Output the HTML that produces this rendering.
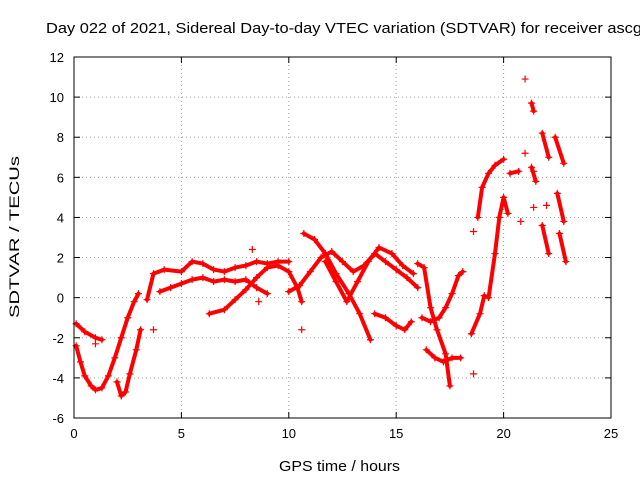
<!DOCTYPE html>
<html><head><meta charset="utf-8"><style>
body{margin:0;background:#fff;}
svg{display:block;font-family:"Liberation Sans",sans-serif;}
</style></head><body>
<svg id="chart" width="640" height="480">
<text x="46" y="33" font-size="15" textLength="596" lengthAdjust="spacingAndGlyphs" fill="#000">Day 022 of 2021, Sidereal Day-to-day VTEC variation (SDTVAR) for receiver ascg</text>
<text x="279" y="471" font-size="15" textLength="121" lengthAdjust="spacingAndGlyphs">GPS time / hours</text>
<text transform="translate(19,318) rotate(-90)" font-size="14" textLength="162" lengthAdjust="spacingAndGlyphs">SDTVAR / TECUs</text>
<g id="grid"></g><g id="marks"></g><g id="axes"></g>
</svg>
<script>
const xTicks=[0,5,10,15,20,25];
const yTicks=[-6,-4,-2,0,2,4,6,8,10,12];
const tracks=[
[[0.1,-2.4],[0.3,-3.2],[0.5,-3.9],[0.8,-4.4],[1.0,-4.6],[1.3,-4.5],[1.6,-3.9],[1.9,-3.0],[2.2,-2.0],[2.5,-1.0],[2.8,-0.2],[3.0,0.2]],
[[0.1,-1.3],[0.5,-1.7],[1.0,-2.0],[1.3,-2.1]],
[[2.0,-4.2],[2.2,-4.9],[2.4,-4.7],[2.6,-3.8],[2.9,-2.6],[3.1,-1.6]],
[[3.4,-0.1],[3.7,1.2],[4.2,1.4],[5.0,1.3],[5.5,1.8],[6.0,1.7],[6.5,1.4],[7.0,1.3],[7.5,1.5],[8.0,1.6],[8.5,1.8],[9.0,1.7],[9.5,1.8],[10.0,1.8]],
[[4.0,0.3],[4.5,0.5],[5.0,0.7],[5.5,0.9],[6.0,1.0],[6.5,0.8],[7.0,0.9],[7.5,0.8],[8.0,0.9],[8.5,0.5],[9.0,0.2]],
[[6.3,-0.8],[7.0,-0.6],[7.5,-0.1],[8.0,0.4],[8.5,1.0],[9.0,1.5],[9.5,1.6],[10.0,1.3],[10.4,0.5],[10.6,-0.2]],
[[10.0,0.3],[10.5,0.6],[11.0,1.3],[11.5,2.0],[12.0,2.3],[12.5,1.8],[13.0,1.3],[13.5,1.6],[14.0,2.2],[14.5,1.8],[15.0,1.4],[15.5,1.0],[16.0,0.5]],
[[10.7,3.2],[11.2,2.9],[11.7,2.2],[12.2,1.2],[12.8,0.2],[13.3,-0.8],[13.8,-2.1]],
[[11.7,1.8],[12.2,0.8],[12.7,-0.2],[13.2,0.8],[13.7,1.8],[14.2,2.5],[14.8,2.2],[15.3,1.6],[15.8,1.2]],
[[14.0,-0.8],[14.5,-1.0],[15.0,-1.4],[15.4,-1.6],[15.7,-1.2]],
[[16.0,1.7],[16.3,1.5],[16.6,-0.5],[16.9,-1.6],[17.3,-2.8],[17.5,-4.4]],
[[16.2,-1.0],[16.6,-1.2],[17.0,-1.0],[17.3,-0.5],[17.6,0.2],[17.9,1.1],[18.1,1.3]],
[[16.4,-2.6],[16.8,-3.0],[17.2,-3.2],[17.6,-3.0],[18.0,-3.0]],
[[18.5,-1.8],[18.9,-0.8],[19.1,0.1],[19.3,0.0],[19.6,2.2],[19.8,4.0],[20.0,5.0],[20.2,4.2]],
[[18.8,4.0],[19.0,5.5],[19.3,6.2],[19.6,6.6],[20.0,6.9]],
[[20.3,6.2],[20.7,6.3]],
[[21.3,9.7],[21.4,9.3]],
[[21.8,8.2],[22.1,7.0]],
[[21.3,6.5],[21.5,5.8]],
[[22.4,8.0],[22.8,6.7]],
[[22.5,5.2],[22.8,3.8]],
[[21.8,3.6],[22.1,2.2]],
[[22.6,3.2],[22.9,1.8]]
];
const isolated=[[21.0,10.9],[21.0,7.2],[21.4,4.5],[20.8,3.8],[22.0,4.6],[18.6,-3.8],[18.6,3.3],[10.6,-1.6],[3.7,-1.6],[8.3,2.4],[8.6,-0.2],[1.0,-2.3],[21.4,6.3]];
const L=74,R=611,T=57,B=418;
const xs=v=>L+(v-0)/25*(R-L);
const ys=v=>B-(v+6)/18*(B-T);
const NS="http://www.w3.org/2000/svg";
function mk(tag,attrs,parent){const e=document.createElementNS(NS,tag);for(const k in attrs)e.setAttribute(k,attrs[k]);parent.appendChild(e);return e;}
const grid=document.getElementById('grid'),axes=document.getElementById('axes'),marks=document.getElementById('marks');
xTicks.forEach(t=>{const x=xs(t);
 if(t>0&&t<25){const g=mk('line',{x1:x,x2:x,y1:T,y2:B,stroke:'#a0a0a0','stroke-dasharray':'1,3'},grid);}
 mk('line',{x1:x,x2:x,y1:B,y2:B-6,stroke:'#000'},axes);mk('line',{x1:x,x2:x,y1:T,y2:T+6,stroke:'#000'},axes);
 const tx=mk('text',{x:x,y:B+20,'font-size':13,'text-anchor':'middle'},axes);tx.textContent=t;
 });
yTicks.forEach(t=>{const y=ys(t);
 if(t>-6&&t<12){const g=mk('line',{x1:L,x2:R,y1:y,y2:y,stroke:'#a0a0a0','stroke-dasharray':'1,3'},grid);}
 mk('line',{x1:L,x2:L+6,y1:y,y2:y,stroke:'#000'},axes);mk('line',{x1:R,x2:R-6,y1:y,y2:y,stroke:'#000'},axes);
 const tx=mk('text',{x:L-10,y:y+5,'font-size':13,'text-anchor':'end'},axes);tx.textContent=t;
 });
const bd=mk('rect',{x:L,y:T,width:R-L,height:B-T,fill:'none',stroke:'#000'},axes);

function plus(p){const x=xs(p[0]),y=ys(p[1]);
 const e=mk('path',{d:`M${x-3.5},${y}h7M${x},${y-3.5}v7`,stroke:'#f00','stroke-width':1.2},marks);
 }
tracks.forEach(tr=>{
 const pl=mk('polyline',{points:tr.map(p=>xs(p[0])+','+ys(p[1])).join(' '),fill:'none',stroke:'#f00','stroke-width':4,'stroke-linejoin':'round','stroke-linecap':'round'},marks);
 
 tr.forEach(plus);});
isolated.forEach(plus);
</script>
</body></html>
